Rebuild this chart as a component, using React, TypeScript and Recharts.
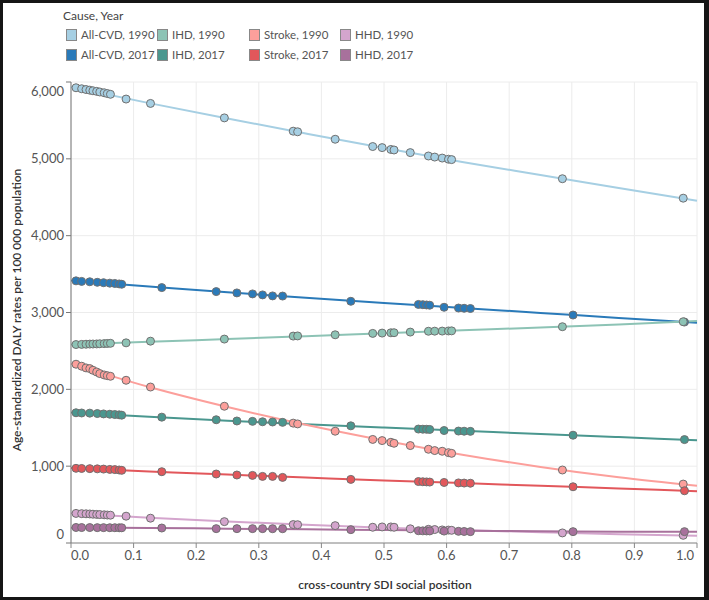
import {ComposedChart, Line, Scatter, XAxis, YAxis, CartesianGrid} from "recharts"

// SDI positions of the country points (1990 and 2017 differ)
const x1990 = [0.008, 0.017, 0.024, 0.030, 0.035, 0.041, 0.046, 0.053, 0.058, 0.063, 0.088, 0.127, 0.245, 0.355, 0.362, 0.422, 0.482, 0.497, 0.511, 0.516, 0.542, 0.571, 0.581, 0.593, 0.603, 0.608, 0.785, 0.978]
const x2017 = [0.008, 0.017, 0.030, 0.042, 0.052, 0.062, 0.070, 0.077, 0.081, 0.145, 0.232, 0.265, 0.290, 0.306, 0.322, 0.338, 0.447, 0.555, 0.562, 0.568, 0.573, 0.596, 0.619, 0.628, 0.638, 0.802, 0.980]

const allCvd1990 = [5925, 5912, 5902, 5894, 5886, 5878, 5870, 5860, 5850, 5840, 5778, 5721, 5533, 5360, 5352, 5255, 5160, 5146, 5122, 5115, 5081, 5037, 5023, 5010, 4995, 4990, 4741, 4488]
const ihd1990 = [2583, 2585, 2587, 2589, 2590, 2591, 2593, 2595, 2597, 2599, 2605, 2627, 2654, 2693, 2695, 2710, 2728, 2732, 2736, 2737, 2745, 2756, 2757, 2758, 2760, 2761, 2815, 2880]
const stroke1990 = [2327, 2301, 2279, 2270, 2248, 2226, 2205, 2187, 2178, 2170, 2118, 2030, 1780, 1560, 1550, 1455, 1348, 1333, 1311, 1298, 1268, 1220, 1203, 1194, 1176, 1167, 950, 767]
const hhd1990 = [385, 382, 380, 378, 375, 372, 370, 367, 364, 362, 349, 323, 278, 240, 238, 226, 205, 209, 209, 205, 185, 178, 175, 170, 168, 165, 131, 100]

const allCvd2017 = [3412, 3405, 3400, 3393, 3388, 3382, 3378, 3372, 3368, 3324, 3272, 3255, 3242, 3229, 3216, 3214, 3146, 3105, 3102, 3098, 3095, 3068, 3058, 3055, 3052, 2967, 2876]
const ihd2017 = [1695, 1692, 1690, 1685, 1680, 1676, 1672, 1668, 1664, 1638, 1604, 1588, 1583, 1578, 1575, 1570, 1525, 1483, 1481, 1480, 1478, 1464, 1457, 1455, 1453, 1403, 1346]
const stroke2017 = [972, 970, 968, 965, 962, 958, 955, 950, 946, 928, 898, 885, 880, 867, 867, 854, 828, 800, 797, 795, 793, 788, 782, 780, 778, 732, 680]
const hhd2017 = [202, 201, 201, 200, 200, 199, 199, 198, 198, 195, 187, 187, 187, 187, 186, 186, 174, 160, 158, 157, 157, 155, 152, 150, 148, 148, 148]

// fitted curves, read at these positions
const trendX = [0, 0.125, 0.25, 0.375, 0.5, 0.625, 0.75, 0.875, 1]
const allCvd1990Trend = [5935, 5725, 5525, 5330, 5140, 4960, 4790, 4620, 4455]
const allCvd2017Trend = [3415, 3338, 3262, 3192, 3125, 3060, 2995, 2930, 2865]
const ihd1990Trend = [2583, 2618, 2655, 2692, 2730, 2768, 2805, 2845, 2888]
const ihd2017Trend = [1698, 1643, 1592, 1545, 1502, 1460, 1418, 1378, 1338]
const stroke1990Trend = [2335, 2030, 1770, 1540, 1335, 1150, 990, 855, 745]
const stroke2017Trend = [975, 932, 890, 852, 815, 780, 745, 710, 675]
const hhd1990Trend = [388, 330, 280, 237, 200, 168, 140, 115, 95]
const hhd2017Trend = [200, 195, 187, 178, 168, 160, 152, 148, 145]

const xTicks = [0, 0.1, 0.2, 0.3, 0.4, 0.5, 0.6, 0.7, 0.8, 0.9, 1]
const yTicks = [0, 1000, 2000, 3000, 4000, 5000, 6000]

const toPoints = (xs: number[], ys: number[]) => xs.map((x, i) => ({x, y: ys[i]}))

const series = [
    {name: "All-CVD, 1990", color: "#a6cfe3", xs: x1990, ys: allCvd1990, trend: allCvd1990Trend},
    {name: "All-CVD, 2017", color: "#2a7ab9", xs: x2017, ys: allCvd2017, trend: allCvd2017Trend},
    {name: "IHD, 1990", color: "#8dc3b5", xs: x1990, ys: ihd1990, trend: ihd1990Trend},
    {name: "IHD, 2017", color: "#4a978f", xs: x2017, ys: ihd2017, trend: ihd2017Trend},
    {name: "Stroke, 1990", color: "#fc9f9b", xs: x1990, ys: stroke1990, trend: stroke1990Trend},
    {name: "Stroke, 2017", color: "#e2575b", xs: x2017, ys: stroke2017, trend: stroke2017Trend},
    {name: "HHD, 1990", color: "#d4a5cd", xs: x1990, ys: hhd1990, trend: hhd1990Trend},
    {name: "HHD, 2017", color: "#a8719c", xs: x2017, ys: hhd2017, trend: hhd2017Trend},
]

const FONT = "Lato, 'Open Sans', sans-serif"

function XTick({x, y, payload}: any) {
    const v = payload.value
    const dx = v === 0 ? 9 : v === 1 ? -12 : 0
    return (
        <text x={x + dx} y={y} dy="0.71em" textAnchor="middle" fill="#555" fontSize={13} fontFamily={FONT}>
            {v.toFixed(1)}
        </text>
    )
}

function YTick({x, y, payload}: any) {
    const v = payload.value
    const dy = v === 6000 ? 9 : v === 0 ? -9 : 0
    return (
        <text x={x} y={y + dy} dy="0.355em" textAnchor="end" fill="#555" fontSize={13} fontFamily={FONT}>
            {v.toLocaleString("en-US")}
        </text>
    )
}

const legendCols = [
    {left: 66, items: [series[0], series[1]]},
    {left: 157, items: [series[2], series[3]]},
    {left: 249, items: [series[4], series[5]]},
    {left: 340, items: [series[6], series[7]]},
]

export default function App() {
    return (
        <div style={{position: "absolute", left: 0, top: 0, width: 709, height: 600, background: "#fff", fontFamily: FONT}}>
            <div style={{position: "absolute", left: 63, top: 8, fontSize: 12, color: "#444"}}>Cause, Year</div>
            {legendCols.map(col =>
                col.items.map((s, row) => (
                    <div key={s.name} style={{position: "absolute", left: col.left, top: 28 + row * 20, height: 13, display: "flex", alignItems: "center", fontSize: 11.5, color: "#555"}}>
                        <span style={{width: 9, height: 10, background: s.color, border: "1px solid #888", marginRight: 4}} />
                        {s.name}
                    </div>
                ))
            )}

            <ComposedChart width={709} height={600} margin={{top: 82, right: 12, bottom: 0, left: 0}} style={{position: "absolute", left: 0, top: 0}}>
                <CartesianGrid stroke="#ececec" />
                <XAxis
                    type="number"
                    dataKey="x"
                    domain={[0, 1]}
                    ticks={xTicks}
                    height={57}
                    tick={<XTick />}
                    tickSize={5}
                    tickMargin={3}
                    axisLine={{stroke: "#888"}}
                    tickLine={{stroke: "#888"}}
                    allowDuplicatedCategory={false}
                />
                <YAxis
                    type="number"
                    dataKey="y"
                    domain={[0, 6000]}
                    ticks={yTicks}
                    width={71}
                    tick={<YTick />}
                    tickSize={5}
                    tickMargin={2}
                    axisLine={{stroke: "#777"}}
                    tickLine={{stroke: "#777"}}
                />
                {series.map(s => (
                    <Line
                        key={s.name + "-fit"}
                        data={toPoints(trendX, s.trend)}
                        dataKey="y"
                        type="monotone"
                        stroke={s.color}
                        strokeWidth={2}
                        dot={false}
                        activeDot={false}
                        isAnimationActive={false}
                    />
                ))}
                {series.map(s => (
                    <Scatter
                        key={s.name}
                        name={s.name}
                        data={toPoints(s.xs, s.ys)}
                        dataKey="y"
                        fill={s.color}
                        isAnimationActive={false}
                        shape={(p: any) => <circle cx={p.cx} cy={p.cy} r={4} fill={s.color} stroke="#707070" strokeWidth={1} />}
                    />
                ))}
            </ComposedChart>

            <div style={{position: "absolute", left: 4, top: 310, width: 0, height: 0}}>
                <div style={{position: "absolute", transform: "translate(-50%, -50%) rotate(-90deg)", left: 12, top: 0, whiteSpace: "nowrap", fontSize: 12, fontWeight: 600, color: "#333"}}>
                    Age-standardized DALY rates per 100 000 population
                </div>
            </div>
            <div style={{position: "absolute", left: 385, top: 584, transform: "translate(-50%, -50%)", whiteSpace: "nowrap", fontSize: 12, fontWeight: 600, color: "#333"}}>
                cross-country SDI social position
            </div>

            <div style={{position: "absolute", inset: 0, borderStyle: "solid", borderColor: "#151515", borderWidth: "3px 5px 3px 3px", pointerEvents: "none"}} />
        </div>
    )
}
